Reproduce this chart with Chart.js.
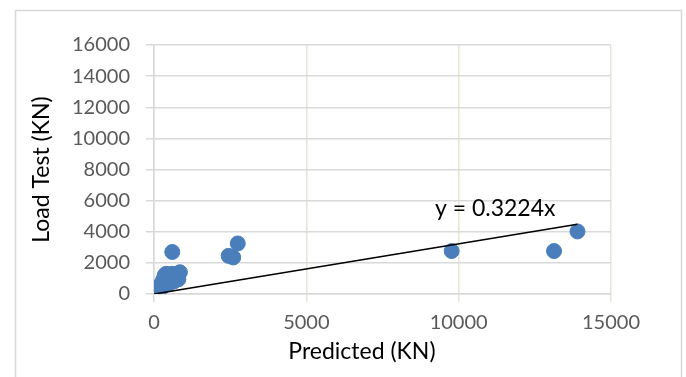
<!DOCTYPE html>
<html>
<head>
<meta charset="utf-8">
<script src="https://cdn.jsdelivr.net/npm/chart.js@4"></script>
<style>
  html, body { margin: 0; padding: 0; background: #fff; }
  #wrap { position: relative; width: 686px; height: 377px; }
</style>
</head>
<body>
<div id="wrap"><canvas id="c" width="686" height="377"></canvas></div>
<script>
// Predicted capacity vs. measured load test (kN)
const predicted = [20, 50, 80, 120, 150, 200, 250, 250, 300, 300, 350, 400, 400, 450, 500, 500, 550, 600, 600, 650, 700, 700, 750, 800, 850, 800,
                   600, 2450, 2600, 2750, 9770, 13130, 13900];
const loadTest  = [20, 80, 200, 350, 250, 500, 700, 400, 900, 600, 1200, 1300, 800, 1000, 1250, 700, 900, 1100, 1300, 800, 1000, 1200, 1100, 1300, 1400, 950,
                   2700, 2450, 2350, 3250, 2760, 2760, 4020];
const trendSlope = 0.3224;
const trendLabel = 'y = 0.3224x';
const xTicks = [0, 5000, 10000, 15000];
const yTicks = [0, 2000, 4000, 6000, 8000, 10000, 12000, 14000, 16000];
const xTitle = 'Predicted (KN)';
const yTitle = 'Load Test (KN)';

const points = predicted.map((x, i) => ({ x, y: loadTest[i] }));
const xMaxData = Math.max(...predicted);
const trend = [{ x: 0, y: 0 }, { x: xMaxData, y: trendSlope * xMaxData }];

const FONT = 'Lato, "Open Sans", sans-serif';

const decor = {
  id: 'decor',
  beforeDraw(chart) {
    const ctx = chart.ctx;
    ctx.save();
    ctx.strokeStyle = '#d9d9d9';
    ctx.lineWidth = 1.5;
    ctx.strokeRect(15.5, 10.5, 666, 400);
    ctx.restore();
  },
  afterDraw(chart) {
    const ctx = chart.ctx;
    const a = chart.chartArea;
    const xs = chart.scales.x, ys = chart.scales.y;
    ctx.save();
    ctx.fillStyle = '#000';
    ctx.font = '23px ' + FONT;
    ctx.textAlign = 'center';
    ctx.textBaseline = 'middle';
    ctx.fillText(xTitle, a.left + (a.right - a.left) * 0.455, 352);
    ctx.translate(42, (a.top + a.bottom) / 2);
    ctx.rotate(-Math.PI / 2);
    ctx.fillText(yTitle, 0, 0);
    ctx.restore();

    // trendline equation near the line's upper end
    ctx.save();
    ctx.fillStyle = '#000';
    ctx.font = '23px ' + FONT;
    ctx.textAlign = 'right';
    ctx.textBaseline = 'middle';
    const px = xs.getPixelForValue(xMaxData);
    const py = ys.getPixelForValue(trendSlope * xMaxData);
    ctx.fillText(trendLabel, px - 22, py - 16);
    ctx.restore();
  }
};

const plain = v => String(v);

new Chart(document.getElementById('c'), {
  type: 'scatter',
  data: {
    datasets: [
      {
        type: 'line',
        data: trend,
        borderColor: '#000',
        borderWidth: 1.6,
        pointRadius: 0,
        fill: false,
        order: 0
      },
      {
        data: points,
        backgroundColor: '#4a7ebb',
        borderColor: '#4a7ebb',
        pointRadius: 7.5,
        pointHoverRadius: 7.5,
        order: 1
      }
    ]
  },
  plugins: [decor],
  options: {
    responsive: false,
    animation: false,
    layout: { padding: { left: 0, right: 75, top: 45, bottom: 0 } },
    plugins: { legend: { display: false }, tooltip: { enabled: false } },
    scales: {
      x: {
        type: 'linear',
        min: 0, max: 15000,
        afterBuildTicks: s => { s.ticks = xTicks.map(v => ({ value: v })); },
        afterFit: s => { s.height = 83; },
        grid: {
          color: c => c.index === 0 ? '#d9d9d9' : '#e8e5cf',
          lineWidth: 1.5,
          tickLength: 8
        },
        border: { color: '#d9d9d9', width: 1.5 },
        ticks: { color: '#595959', font: { family: FONT, size: 20 }, padding: 9, maxRotation: 0, callback: plain }
      },
      y: {
        type: 'linear',
        min: 0, max: 16000,
        afterBuildTicks: s => { s.ticks = yTicks.map(v => ({ value: v })); },
        afterFit: s => { s.width = 154; },
        grid: { color: '#d9d9d9', lineWidth: 1.5, tickLength: 8 },
        border: { color: '#d9d9d9', width: 1.5 },
        ticks: { color: '#595959', font: { family: FONT, size: 20 }, padding: 16, callback: plain }
      }
    }
  }
});
</script>
</body>
</html>
